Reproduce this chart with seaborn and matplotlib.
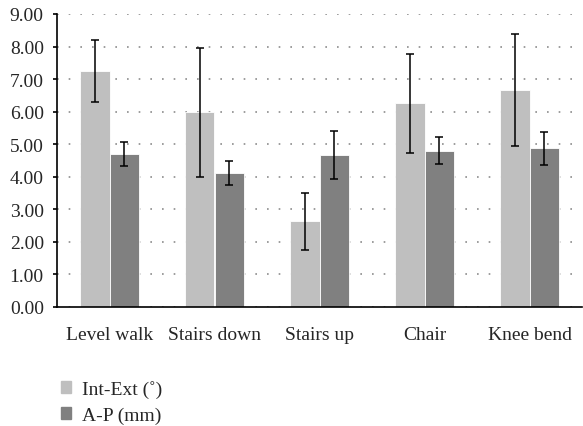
import numpy as np
import pandas as pd
import matplotlib
matplotlib.use("Agg")
import matplotlib.pyplot as plt
import seaborn as sns

categories = ["Level walk", "Stairs down", "Stairs up", "Chair", "Knee bend"]
int_ext = [7.25, 5.98, 2.63, 6.26, 6.68]
int_ext_err = [0.96, 1.99, 0.88, 1.52, 1.72]
ap = [4.70, 4.12, 4.68, 4.80, 4.87]
ap_err = [0.38, 0.36, 0.74, 0.42, 0.51]
series = ["Int-Ext (˚)", "A-P (mm)"]
colors = ["#bfbfbf", "#808080"]

df = pd.DataFrame({
    "Activity": categories * 2,
    "Series": [series[0]] * 5 + [series[1]] * 5,
    "Value": int_ext + ap,
    "Err": int_ext_err + ap_err,
})

sns.set_theme(style="white")
plt.rcParams["font.family"] = ["Liberation Serif", "DejaVu Serif"]
fs = 14

fig = plt.figure(figsize=(5.83, 4.27), dpi=100)
ax = fig.add_axes([57 / 583, 1 - 308 / 427, 525 / 583, 293 / 427])

sns.barplot(data=df, x="Activity", y="Value", hue="Series", palette=colors,
            errorbar=None, width=0.57, saturation=1, ax=ax,
            edgecolor="white", linewidth=0.6, legend=False, zorder=2)

# error bars at bar centres
for container, s in zip(ax.containers, series):
    sub = df[df["Series"] == s]
    xs = [p.get_x() + p.get_width() / 2 for p in container.patches]
    ax.errorbar(xs, sub["Value"], yerr=sub["Err"], fmt="none",
                ecolor="black", elinewidth=1.1, capsize=2.7, capthick=1.1, zorder=3)

ax.set_ylim(0, 9)
ax.set_xlim(-0.5, 4.5)
ax.set_yticks(np.arange(0, 9.01, 1))
ax.set_yticklabels([f"{v:.2f}" for v in np.arange(0, 9.01, 1)], fontsize=fs)
ax.set_xticklabels(categories, fontsize=fs)
ax.set_xticks(np.arange(-0.5, 4.6, 1), minor=True)
ax.tick_params(axis="x", which="major", length=0, pad=13.5)
ax.tick_params(axis="x", which="minor", length=3.6, width=1.2, color="black", direction="out")
ax.tick_params(axis="y", length=3, width=1.2, color="black", direction="out", left=True, pad=6.5)
ax.set_xlabel("")
ax.set_ylabel("")

ax.yaxis.grid(True, linestyle=(0, (1, 6)), color="#8c8c8c", linewidth=1.2, zorder=0)
ax.set_axisbelow(True)
for side in ["top", "right"]:
    ax.spines[side].set_visible(False)
for side in ["left", "bottom"]:
    ax.spines[side].set_color("black")
    ax.spines[side].set_linewidth(1.2)

handles = [plt.Rectangle((0, 0), 1, 1, color=c) for c in colors]
fig.legend(handles, series, loc="upper left", bbox_to_anchor=(61 / 583, 1 - 381 / 427),
           frameon=False, fontsize=fs, handlelength=0.52, handleheight=0.52,
           handletextpad=0.57, labelspacing=0.44, borderpad=0, borderaxespad=0)

fig.savefig("out.png", dpi=100)
